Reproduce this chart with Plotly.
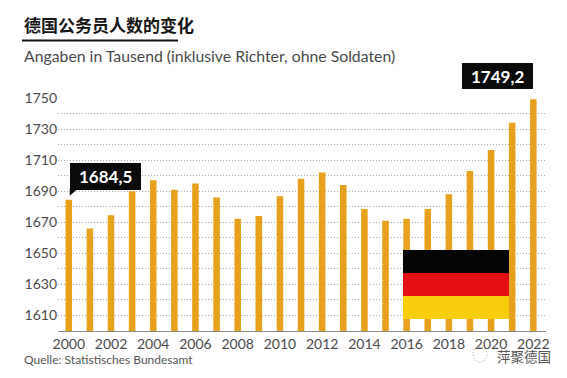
import plotly.graph_objects as go

years = list(range(2000, 2023))
values = [1684.5, 1666, 1674.5, 1690, 1697, 1691, 1695, 1686, 1672.3, 1674, 1686.7, 1698,
          1702, 1694, 1678.5, 1671, 1672.3, 1678.5, 1688, 1703, 1716.5, 1734, 1749.2]
x_ticks = list(range(2000, 2023, 2))
y_ticks = list(range(1610, 1751, 20))
title = "德国公务员人数的变化"
subtitle = "Angaben in Tausend (inklusive Richter, ohne Soldaten)"
source = "Quelle: Statistisches Bundesamt"
watermark = "萍聚德国"
callouts = [(2000, "1684,5"), (2022, "1749,2")]

W, H = 567, 378
L, R, T, B = 58, 21, 98, 47
FONT = "Lato, 'Noto Sans', sans-serif"
CJK = "'Noto Sans CJK SC', sans-serif"
TEXT = "#4a4a4a"


def px(x):
    return (x - L) / (W - L - R)


def py(y):
    return 1 - (y - T) / (H - T - B)


def rect(x0, y0, x1, y1, color):
    return dict(type="rect", xref="paper", yref="paper", x0=px(x0), x1=px(x1), y0=py(y0), y1=py(y1),
                fillcolor=color, line_width=0, layer="above")


def text(x, y, s, size, color=TEXT, family=FONT, anchor="left", **kw):
    return dict(xref="paper", yref="paper", x=px(x), y=py(y), text=s, showarrow=False, xanchor=anchor,
                yanchor="middle", font=dict(size=size, color=color, family=family), **kw)


fig = go.Figure(go.Bar(x=years, y=values, width=0.31, marker=dict(color="#E8A11C", line_width=0),
                       hoverinfo="skip"))

shapes = [
    rect(22, 39.5, 178, 41.5, "#111111"),
    rect(403, 250, 509, 273, "#050505"),
    rect(403, 273, 509, 296, "#E30F13"),
    rect(403, 296, 509, 319, "#F8CE0B"),
    rect(70, 163, 141, 190, "#0b0b0b"),
    rect(462, 63, 533, 89, "#0b0b0b"),
    # callout tails, anchored to their bars
    dict(type="path", xref="x", yref="y", xsizemode="pixel", ysizemode="pixel",
         xanchor=callouts[0][0], yanchor=values[0], path="M 1 11 L 9 11 L 1 4 Z",
         fillcolor="#0b0b0b", line_width=0, layer="above"),
    dict(type="path", xref="x", yref="y", xsizemode="pixel", ysizemode="pixel",
         xanchor=callouts[1][0], yanchor=values[-1], path="M -10 9 L 0 9 L 0 2 Z",
         fillcolor="#0b0b0b", line_width=0, layer="above"),
    # watermark icon
    dict(type="circle", xref="paper", yref="paper", x0=px(473), x1=px(487), y0=py(362), y1=py(347),
         fillcolor="rgba(0,0,0,0)", line=dict(color="#9a9a9a", width=1, dash="1px,2px"), layer="above"),
]

annotations = [
    text(22, 24, "<b>" + title + "</b>", 17, "#161616", CJK),
    text(22, 56, subtitle, 15.8),
    text(22, 359, source, 12, "#555555"),
    text(105.5, 176, "<b>" + callouts[0][1] + "</b>", 17, "#ffffff", anchor="center"),
    text(497.5, 76, "<b>" + callouts[1][1] + "</b>", 17, "#ffffff", anchor="center"),
    text(495, 355.5, watermark, 13.5, "#555555", CJK),
]

fig.update_layout(
    width=W, height=H, margin=dict(l=L, r=R, t=T, b=B), autosize=False,
    paper_bgcolor="white", plot_bgcolor="white", showlegend=False,
    font=dict(family=FONT, size=14, color=TEXT),
    shapes=shapes, annotations=annotations,
    xaxis=dict(range=[1999.49, 2022.6], tickmode="array", tickvals=x_ticks, ticktext=[str(v) for v in x_ticks],
               showgrid=False, zeroline=False, showline=True, linecolor="#8a8a8a", linewidth=1, ticks="",
               tickangle=0, fixedrange=True),
    yaxis=dict(range=[1600, 1750], tickmode="array", tickvals=y_ticks, ticktext=[str(v) for v in y_ticks],
               showgrid=False, zeroline=False, showline=False, ticks="", fixedrange=True,
               minor=dict(tick0=1600, dtick=10, showgrid=True, gridcolor="#a8a8a8", griddash="1px,2px", gridwidth=1,
                          ticks="")),
)
fig.write_html("out.html", config=dict(displayModeBar=False),
               post_script="document.documentElement.style.margin='0';document.body.style.margin='0';document.body.style.overflow='hidden';")
